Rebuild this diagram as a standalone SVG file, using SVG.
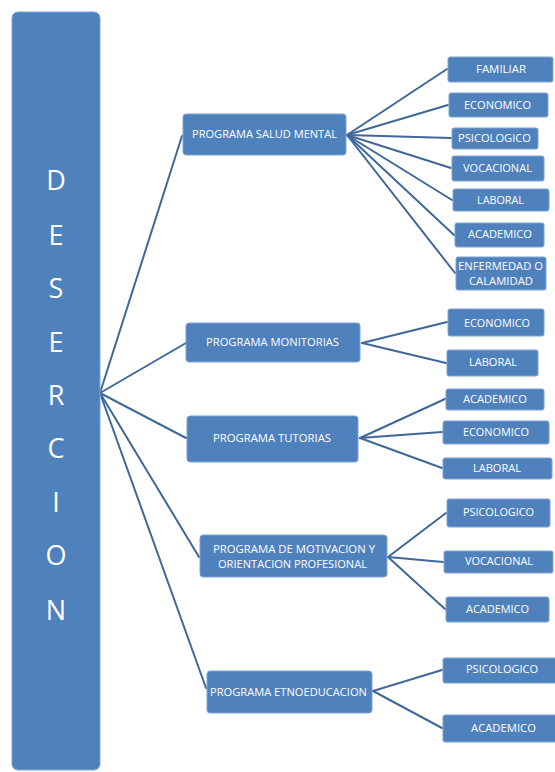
<svg xmlns="http://www.w3.org/2000/svg" width="555" height="772" viewBox="0 0 555 772">
<style>
.b{fill:#4F81BD;stroke:#7EA2CF;stroke-width:1}
.t{font-family:"Open Sans","Liberation Sans",sans-serif;font-size:11px;fill:#FFFFFF;text-anchor:middle}
.big{font-family:"Open Sans","Liberation Sans",sans-serif;font-size:27px;fill:#FFFFFF;text-anchor:middle}
.c line{stroke:#3F6898;stroke-width:2;stroke-linecap:round}
</style>
<rect width="555" height="772" fill="#FFFFFF"/>
<g id="connectors" class="c">
<line x1="100" y1="393" x2="182" y2="136"/>
<line x1="100" y1="393" x2="186" y2="343"/>
<line x1="100" y1="393" x2="186" y2="438"/>
<line x1="100" y1="393" x2="199" y2="557"/>
<line x1="100" y1="393" x2="206" y2="688"/>
<line x1="347" y1="135" x2="447" y2="69"/>
<line x1="347" y1="135" x2="448" y2="105"/>
<line x1="347" y1="135" x2="451" y2="138"/>
<line x1="347" y1="135" x2="451" y2="168"/>
<line x1="347" y1="135" x2="452" y2="200"/>
<line x1="347" y1="135" x2="454" y2="235"/>
<line x1="347" y1="135" x2="455" y2="273"/>
<line x1="362" y1="343" x2="447" y2="322"/>
<line x1="362" y1="343" x2="446" y2="363"/>
<line x1="360" y1="438" x2="445" y2="399"/>
<line x1="360" y1="438" x2="442" y2="432"/>
<line x1="360" y1="438" x2="442" y2="468"/>
<line x1="388" y1="557" x2="446" y2="513"/>
<line x1="388" y1="557" x2="443" y2="562"/>
<line x1="388" y1="557" x2="445" y2="609"/>
<line x1="373" y1="691" x2="442" y2="670"/>
<line x1="373" y1="691" x2="442" y2="728"/>
</g>
<g id="desercion">
<rect class="b" x="12" y="12" width="88" height="758" rx="6"/>
<text class="big" x="56" y="190">D</text>
<text class="big" x="56" y="245">E</text>
<text class="big" x="56" y="298">S</text>
<text class="big" x="56" y="352">E</text>
<text class="big" x="56" y="405">R</text>
<text class="big" x="56" y="458">C</text>
<text class="big" x="56" y="512">I</text>
<text class="big" x="56" y="565">O</text>
<text class="big" x="56" y="620">N</text>
</g>
<g id="salud">
<rect class="b" x="183" y="114" width="163" height="41" rx="3"/>
<text class="t" x="264.5" y="138" textLength="145" lengthAdjust="spacingAndGlyphs">PROGRAMA SALUD MENTAL</text>
</g>
<g id="monitorias">
<rect class="b" x="186" y="323" width="174" height="39" rx="3"/>
<text class="t" x="272.5" y="346" textLength="133" lengthAdjust="spacingAndGlyphs">PROGRAMA MONITORIAS</text>
</g>
<g id="tutorias">
<rect class="b" x="187" y="416" width="171" height="46" rx="3"/>
<text class="t" x="272" y="442" textLength="118" lengthAdjust="spacingAndGlyphs">PROGRAMA TUTORIAS</text>
</g>
<g id="motivacion">
<rect class="b" x="200" y="535" width="187" height="42" rx="3"/>
<text class="t" x="294" y="553" textLength="162" lengthAdjust="spacingAndGlyphs">PROGRAMA DE MOTIVACION Y</text>
<text class="t" x="292.5" y="568" textLength="149" lengthAdjust="spacingAndGlyphs">ORIENTACION PROFESIONAL</text>
</g>
<g id="etno">
<rect class="b" x="207" y="671" width="165" height="42" rx="3"/>
<text class="t" x="288.5" y="696" textLength="157" lengthAdjust="spacingAndGlyphs">PROGRAMA ETNOEDUCACION</text>
</g>
<g id="s-familiar"><rect class="b" x="448" y="57" width="105" height="25" rx="2"/><text class="t" x="501" y="73" textLength="50" lengthAdjust="spacingAndGlyphs">FAMILIAR</text></g>
<g id="s-economico"><rect class="b" x="449" y="93" width="99" height="24" rx="2"/><text class="t" x="497.5" y="109" textLength="67" lengthAdjust="spacingAndGlyphs">ECONOMICO</text></g>
<g id="s-psicologico"><rect class="b" x="452" y="128" width="86" height="21" rx="2"/><text class="t" x="494.5" y="142" textLength="73" lengthAdjust="spacingAndGlyphs">PSICOLOGICO</text></g>
<g id="s-vocacional"><rect class="b" x="452" y="156" width="92" height="25" rx="2"/><text class="t" x="497.5" y="172" textLength="69" lengthAdjust="spacingAndGlyphs">VOCACIONAL</text></g>
<g id="s-laboral"><rect class="b" x="453" y="189" width="96" height="22" rx="2"/><text class="t" x="500.5" y="204" textLength="47" lengthAdjust="spacingAndGlyphs">LABORAL</text></g>
<g id="s-academico"><rect class="b" x="455" y="223" width="89" height="24" rx="2"/><text class="t" x="500" y="238" textLength="64" lengthAdjust="spacingAndGlyphs">ACADEMICO</text></g>
<g id="s-enfermedad"><rect class="b" x="456" y="257" width="90" height="33" rx="2"/><text class="t" x="500.5" y="270" textLength="85" lengthAdjust="spacingAndGlyphs">ENFERMEDAD O</text><text class="t" x="501" y="285" textLength="64" lengthAdjust="spacingAndGlyphs">CALAMIDAD</text></g>
<g id="m-economico"><rect class="b" x="448" y="309" width="96" height="27" rx="2"/><text class="t" x="497" y="327" textLength="66" lengthAdjust="spacingAndGlyphs">ECONOMICO</text></g>
<g id="m-laboral"><rect class="b" x="447" y="350" width="91" height="26" rx="2"/><text class="t" x="493" y="366" textLength="48" lengthAdjust="spacingAndGlyphs">LABORAL</text></g>
<g id="t-academico"><rect class="b" x="446" y="389" width="98" height="21" rx="2"/><text class="t" x="495" y="403" textLength="64" lengthAdjust="spacingAndGlyphs">ACADEMICO</text></g>
<g id="t-economico"><rect class="b" x="443" y="421" width="106" height="23" rx="2"/><text class="t" x="496" y="436" textLength="66" lengthAdjust="spacingAndGlyphs">ECONOMICO</text></g>
<g id="t-laboral"><rect class="b" x="443" y="458" width="109" height="21" rx="2"/><text class="t" x="497" y="472" textLength="48" lengthAdjust="spacingAndGlyphs">LABORAL</text></g>
<g id="o-psicologico"><rect class="b" x="447" y="499" width="103" height="28" rx="2"/><text class="t" x="498.5" y="516" textLength="71" lengthAdjust="spacingAndGlyphs">PSICOLOGICO</text></g>
<g id="o-vocacional"><rect class="b" x="444" y="551" width="109" height="22" rx="2"/><text class="t" x="499" y="565" textLength="68" lengthAdjust="spacingAndGlyphs">VOCACIONAL</text></g>
<g id="o-academico"><rect class="b" x="446" y="597" width="103" height="25" rx="2"/><text class="t" x="497.5" y="613" textLength="63" lengthAdjust="spacingAndGlyphs">ACADEMICO</text></g>
<g id="e-psicologico"><rect class="b" x="443" y="658" width="115" height="25" rx="2"/><text class="t" x="502" y="673" textLength="72" lengthAdjust="spacingAndGlyphs">PSICOLOGICO</text></g>
<g id="e-academico"><rect class="b" x="443" y="715" width="115" height="27" rx="2"/><text class="t" x="503.5" y="732" textLength="65" lengthAdjust="spacingAndGlyphs">ACADEMICO</text></g>
</svg>
